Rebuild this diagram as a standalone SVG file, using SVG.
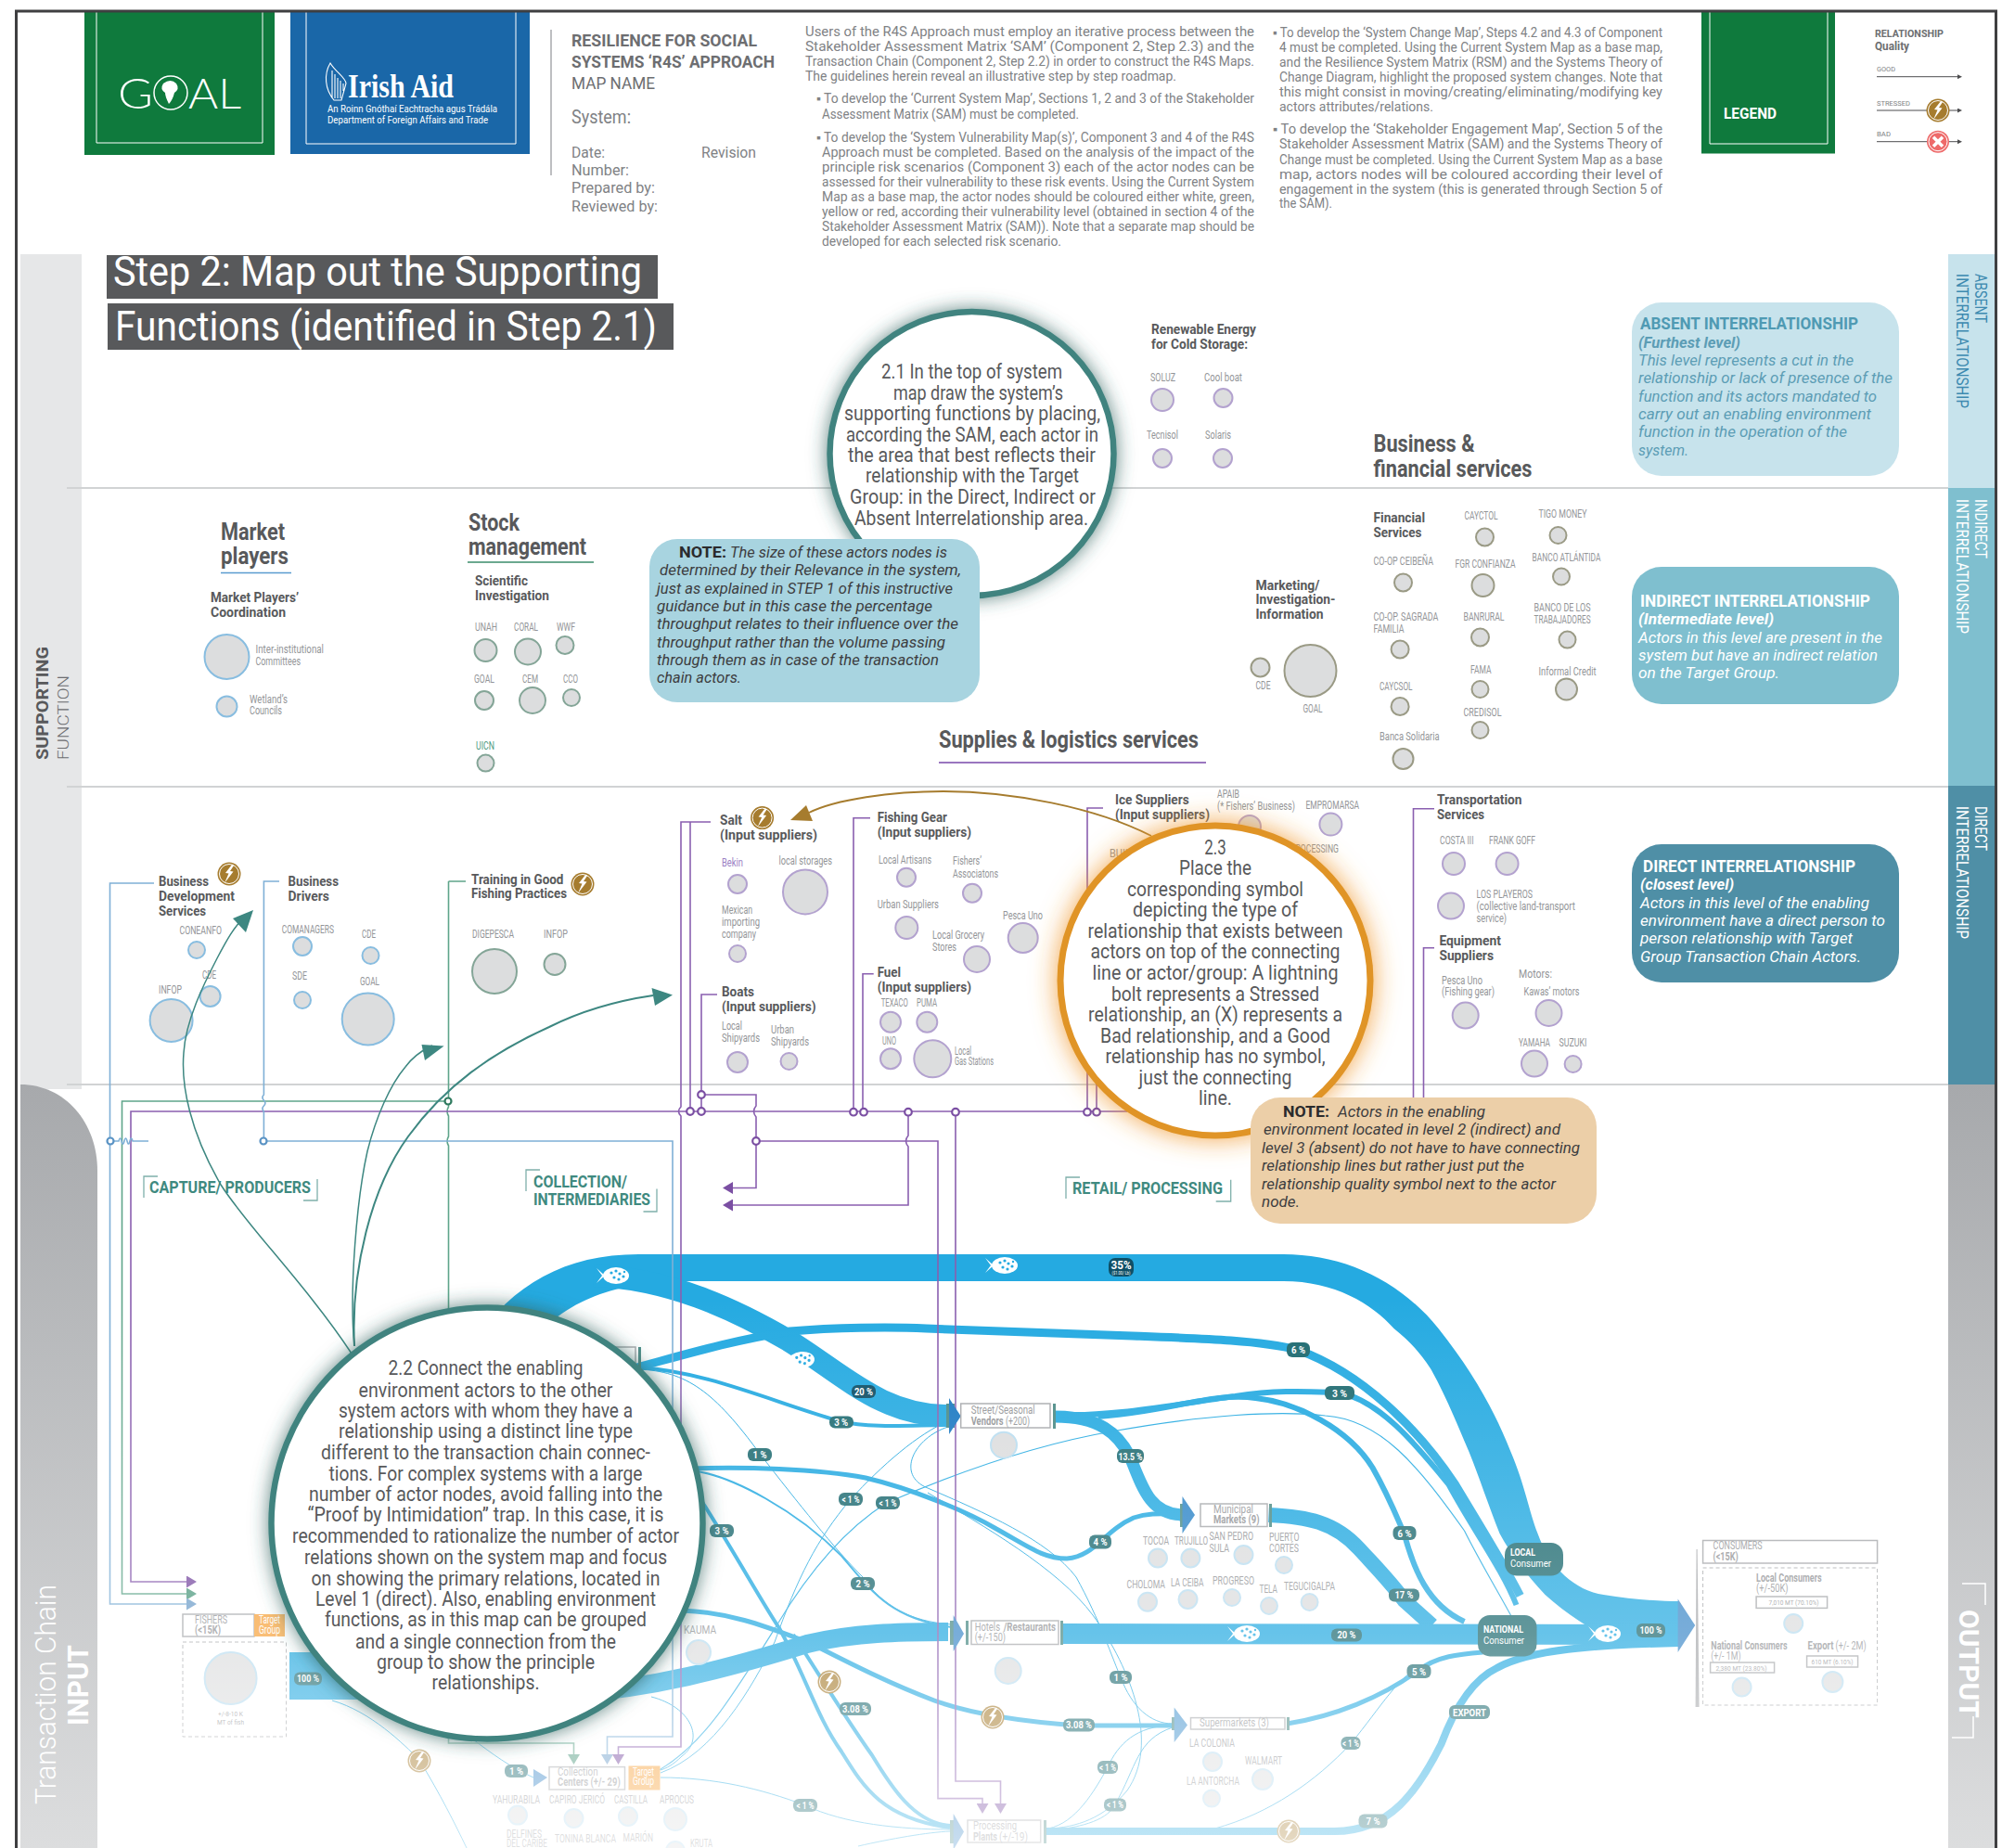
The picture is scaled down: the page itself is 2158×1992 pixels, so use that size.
<svg xmlns="http://www.w3.org/2000/svg" width="2158" height="1992" viewBox="0 0 2158 1992">
<style>
text{font-family:Roboto,"Noto Sans","Liberation Sans",sans-serif;fill:#808285}
.n{font-size:14px}
.l{font-size:12px;fill:#939598}
.h{font-size:15px;font-weight:700;fill:#58595b}
.H{font-size:25px;font-weight:700;fill:#58595b}
.c{font-size:22px;fill:#58595b;text-anchor:middle}
.i{font-size:17px;font-style:italic;fill:#3d3d3f}
.w{fill:#fff}
.b{font-weight:700}
.tl{font-size:18px;font-weight:700;fill:#3f8a80}
.pt{font-size:11px;font-weight:700;fill:#fff;text-anchor:middle}
.s{font-size:8px}
.nd{fill:#dcddde;stroke-width:2}
.cp{stroke:#b3a2cf}.cb{stroke:#88bde0}.cg{stroke:#84a597}.co{stroke:#9a9a85}.cl{stroke:#b9ddf0}
.f{fill:none;stroke:#25aae1}
.rp{fill:none;stroke:#8a5fb0;stroke-width:1.6}
.rb{fill:none;stroke:#7fb0d6;stroke-width:1.6}
.rg{fill:none;stroke:#5fa58a;stroke-width:1.6}
.dot{fill:#fff;stroke-width:2.2}
.bar{fill:#4a8a85}
.box{fill:#fff;stroke:#a7a9ac;stroke-width:1.5}
.dash{fill:none;stroke:#a7a9ac;stroke-width:1;stroke-dasharray:4 3}
.arr{fill:none;stroke:#3d8781}
.brk{fill:none;stroke:#7fb0ab;stroke-width:1.3}
.pill{fill:#1f6b71}
</style>
<defs>
<linearGradient id="gs" x1="0" y1="0" x2="0" y2="1"><stop offset="0" stop-color="#a7a9ac"/><stop offset="1" stop-color="#dcddde"/></linearGradient>
<linearGradient id="fade" gradientUnits="userSpaceOnUse" x1="0" y1="1400" x2="0" y2="1992"><stop offset="0" stop-color="#fff" stop-opacity="0"/><stop offset="0.61" stop-color="#fff" stop-opacity="0.3"/><stop offset="1" stop-color="#fff" stop-opacity="0.72"/></linearGradient>
<filter id="gt" x="-20%" y="-20%" width="140%" height="140%"><feDropShadow dx="0" dy="0" stdDeviation="10" flood-color="#2d5f5c" flood-opacity="0.75"/></filter>
<filter id="go" x="-25%" y="-25%" width="150%" height="150%"><feDropShadow dx="0" dy="0" stdDeviation="14" flood-color="#f0962a" flood-opacity="0.85"/></filter>
<marker id="ap" markerUnits="userSpaceOnUse" markerWidth="11" markerHeight="13" refX="0" refY="6.5" orient="auto"><path d="M0 0L11 6.5L0 13Z" fill="#7b4fa3"/></marker>
<marker id="ab" markerUnits="userSpaceOnUse" markerWidth="11" markerHeight="13" refX="0" refY="6.5" orient="auto"><path d="M0 0L11 6.5L0 13Z" fill="#6f9fca"/></marker>
<marker id="ag" markerUnits="userSpaceOnUse" markerWidth="11" markerHeight="13" refX="0" refY="6.5" orient="auto"><path d="M0 0L11 6.5L0 13Z" fill="#4f9a7f"/></marker>
<marker id="ak" markerUnits="userSpaceOnUse" markerWidth="5" markerHeight="5" refX="0" refY="2.5" orient="auto"><path d="M0 0L5 2.5L0 5Z" fill="#4d4d4f"/></marker>
<g id="bolt"><circle r="12.5" fill="#a67c2e"/><circle r="10.5" fill="none" stroke="#fff" stroke-width="1"/><path d="M3 -10L-4 -1L-0.5 -0.5L-5 10L4.5 -2.5L1 -3L5 -9Z" fill="#fff"/></g>
<g id="fish"><path d="M-21 -8L-12 0L-21 8L-15 0Z" fill="#fff"/><ellipse rx="14" ry="9" fill="#fff"/><circle cx="-5" cy="-3" r="1.6" fill="#25aae1"/><circle cx="0" cy="-5" r="1.6" fill="#25aae1"/><circle cx="4" cy="-2" r="1.6" fill="#25aae1"/><circle cx="-2" cy="2" r="1.6" fill="#25aae1"/><circle cx="3" cy="4" r="1.6" fill="#25aae1"/><circle cx="8" cy="1" r="1.6" fill="#25aae1"/><circle cx="9" cy="-4" r="1.2" fill="#25aae1"/></g>
</defs>
<rect width="2158" height="1992" fill="#fff"/>
<g id="bands">
<rect x="22" y="274" width="66" height="900" fill="#e6e7e8"/>
<path d="M22 1169C70 1169 105 1210 105 1262V1992H22Z" fill="url(#gs)"/>
<rect x="2100" y="274" width="51" height="252" fill="#c7e3ec"/>
<rect x="2100" y="526" width="51" height="321" fill="#7fbfcf"/>
<rect x="2100" y="847" width="51" height="322" fill="#4f8fa6"/>
<rect x="2100" y="1169" width="51" height="823" fill="url(#gs)"/>
<path d="M72 526H2100M72 848H2100M72 1169H2100" stroke="#d1d3d4" stroke-width="2" fill="none"/>
<text transform="translate(52,819) rotate(-90)" font-size="19" class="b" style="fill:#58595b" textLength="122" lengthAdjust="spacingAndGlyphs">SUPPORTING</text>
<text transform="translate(74,819) rotate(-90)" font-size="17" style="fill:#6d6e71;font-weight:300" textLength="91" lengthAdjust="spacingAndGlyphs">FUNCTION</text>
<text transform="translate(60,1945) rotate(-90)" font-size="31" class="w" style="font-weight:300" textLength="237" lengthAdjust="spacingAndGlyphs">Transaction Chain</text>
<text transform="translate(95,1860) rotate(-90)" font-size="32" class="w b" textLength="87" lengthAdjust="spacingAndGlyphs">INPUT</text>
<text transform="translate(2129,295) rotate(90)" font-size="18" style="fill:#3d8ab0" textLength="53" lengthAdjust="spacingAndGlyphs">ABSENT</text>
<text transform="translate(2109,295) rotate(90)" font-size="18" style="fill:#3d8ab0" textLength="145" lengthAdjust="spacingAndGlyphs">INTERRELATIONSHIP</text>
<text transform="translate(2129,538) rotate(90)" font-size="18" class="w" textLength="64" lengthAdjust="spacingAndGlyphs">INDIRECT</text>
<text transform="translate(2109,538) rotate(90)" font-size="18" class="w" textLength="145" lengthAdjust="spacingAndGlyphs">INTERRELATIONSHIP</text>
<text transform="translate(2129,869) rotate(90)" font-size="18" class="w" textLength="48" lengthAdjust="spacingAndGlyphs">DIRECT</text>
<text transform="translate(2109,869) rotate(90)" font-size="18" class="w" textLength="143" lengthAdjust="spacingAndGlyphs">INTERRELATIONSHIP</text>
<text transform="translate(2112,1735) rotate(90)" font-size="30" class="w b" textLength="117" lengthAdjust="spacingAndGlyphs">OUTPUT</text>
<path d="M2115 1707H2140V1730M2104 1873H2127V1850" fill="none" stroke="#fff" stroke-width="1.5"/>
</g>
<g id="header">
<g id="logo-goal"><rect x="91" y="13" width="205" height="154" fill="#0f7a3d"/><path d="M104 13V154H283V13" fill="none" stroke="#fff" stroke-width="1"/>
<text x="127" y="117" font-size="46" class="w" style="font-family:Lato,'Noto Sans',sans-serif;font-weight:300" textLength="38" lengthAdjust="spacingAndGlyphs">G</text>
<circle cx="184" cy="100" r="18" fill="none" stroke="#fff" stroke-width="1.5"/><path d="M176 90q8 -6 14 0q4 6 -2 10q-2 8 -6 12q-4 -8 -4 -12q-6 -4 -2 -10Z" fill="#fff"/>
<text x="203" y="117" font-size="46" class="w" style="font-family:Lato,'Noto Sans',sans-serif;font-weight:300" textLength="57" lengthAdjust="spacingAndGlyphs">AL</text></g>
<g id="logo-irish"><rect x="313" y="13" width="258" height="153" fill="#1a67a8"/><path d="M330 13V155H556V13" fill="none" stroke="#fff" stroke-width="1"/>
<path d="M356 68C362 78 373 84 373 90L368 108H360C350 96 349 80 356 68ZM358 76V106M361 80V106M364 84V106M367 87V106M370 90V98" fill="none" stroke="#fff" stroke-width="1.1"/>
<text x="375" y="105" font-size="36" class="w b" style="font-family:'Liberation Serif',serif" textLength="114" lengthAdjust="spacingAndGlyphs">Irish Aid</text>
<text x="353" y="121" font-size="11" class="w" textLength="183" lengthAdjust="spacingAndGlyphs">An Roinn Gnóthaí Eachtracha agus Trádála</text>
<text x="353" y="133" font-size="11" class="w" textLength="173" lengthAdjust="spacingAndGlyphs">Department of Foreign Affairs and Trade</text></g>
<g id="title-block"><path d="M594 32V189" stroke="#a7a9ac" stroke-width="1.5"/>
<text x="616" y="50" font-size="19" class="b" style="fill:#6d6e71" textLength="200" lengthAdjust="spacingAndGlyphs">RESILIENCE FOR SOCIAL</text>
<text x="616" y="73" font-size="19" class="b" style="fill:#6d6e71" textLength="219" lengthAdjust="spacingAndGlyphs">SYSTEMS ‘R4S’ APPROACH</text>
<text x="616" y="96" font-size="19" style="fill:#6d6e71" textLength="90" lengthAdjust="spacingAndGlyphs">MAP NAME</text>
<text x="616" y="133" font-size="20" textLength="64" lengthAdjust="spacingAndGlyphs">System:</text>
<text x="616" y="170" font-size="17" textLength="36" lengthAdjust="spacingAndGlyphs">Date:</text>
<text x="756" y="170" font-size="17" textLength="59" lengthAdjust="spacingAndGlyphs">Revision</text>
<text x="616" y="189" font-size="17" textLength="62" lengthAdjust="spacingAndGlyphs">Number:</text>
<text x="616" y="208" font-size="17" textLength="90" lengthAdjust="spacingAndGlyphs">Prepared by:</text>
<text x="616" y="228" font-size="17" textLength="93" lengthAdjust="spacingAndGlyphs">Reviewed by:</text></g>
<g id="guidance">
<text x="868" y="39" class="n" textLength="484" lengthAdjust="spacingAndGlyphs">Users of the R4S Approach must employ an iterative process between the</text>
<text x="868" y="55" class="n" textLength="484" lengthAdjust="spacingAndGlyphs">Stakeholder Assessment Matrix ‘SAM’ (Component 2, Step 2.3) and the</text>
<text x="868" y="71" class="n" textLength="484" lengthAdjust="spacingAndGlyphs">Transaction Chain (Component 2, Step 2.2) in order to construct the R4S Maps.</text>
<text x="868" y="87" class="n" textLength="400" lengthAdjust="spacingAndGlyphs">The guidelines herein reveal an illustrative step by step roadmap.</text>
<text x="880" y="111" class="n" textLength="472" lengthAdjust="spacingAndGlyphs">▪ To develop the ‘Current System Map’, Sections 1, 2 and 3 of the Stakeholder</text>
<text x="886" y="127.5" class="n" textLength="277" lengthAdjust="spacingAndGlyphs">Assessment Matrix (SAM) must be completed.</text>
<text x="880" y="152.5" class="n" textLength="472" lengthAdjust="spacingAndGlyphs">▪ To develop the ‘System Vulnerability Map(s)’, Component 3 and 4 of the R4S</text>
<text x="886" y="168.6" class="n" textLength="466" lengthAdjust="spacingAndGlyphs">Approach must be completed. Based on the analysis of the impact of the</text>
<text x="886" y="184.7" class="n" textLength="466" lengthAdjust="spacingAndGlyphs">principle risk scenarios (Component 3) each of the actor nodes can be</text>
<text x="886" y="200.8" class="n" textLength="466" lengthAdjust="spacingAndGlyphs">assessed for their vulnerability to these risk events. Using the Current System</text>
<text x="886" y="216.9" class="n" textLength="466" lengthAdjust="spacingAndGlyphs">Map as a base map, the actor nodes should be coloured either white, green,</text>
<text x="886" y="233" class="n" textLength="466" lengthAdjust="spacingAndGlyphs">yellow or red, according their vulnerability level (obtained in section 4 of the</text>
<text x="886" y="249" class="n" textLength="466" lengthAdjust="spacingAndGlyphs">Stakeholder Assessment Matrix (SAM)). Note that a separate map should be</text>
<text x="886" y="265" class="n" textLength="258" lengthAdjust="spacingAndGlyphs">developed for each selected risk scenario.</text>
<text x="1372" y="39.5" class="n" textLength="420" lengthAdjust="spacingAndGlyphs">▪ To develop the ‘System Change Map’, Steps 4.2 and 4.3 of Component</text>
<text x="1379" y="55.5" class="n" textLength="413" lengthAdjust="spacingAndGlyphs">4 must be completed. Using the Current System Map as a base map,</text>
<text x="1379" y="71.5" class="n" textLength="413" lengthAdjust="spacingAndGlyphs">and the Resilience System Matrix (RSM) and the Systems Theory of</text>
<text x="1379" y="87.5" class="n" textLength="413" lengthAdjust="spacingAndGlyphs">Change Diagram, highlight the proposed system changes. Note that</text>
<text x="1379" y="103.5" class="n" textLength="413" lengthAdjust="spacingAndGlyphs">this might consist in moving/creating/eliminating/modifying key</text>
<text x="1379" y="119.5" class="n" textLength="166" lengthAdjust="spacingAndGlyphs">actors attributes/relations.</text>
<text x="1372" y="144" class="n" textLength="420" lengthAdjust="spacingAndGlyphs">▪ To develop the ‘Stakeholder Engagement Map’, Section 5 of the</text>
<text x="1379" y="160" class="n" textLength="413" lengthAdjust="spacingAndGlyphs">Stakeholder Assessment Matrix (SAM) and the Systems Theory of</text>
<text x="1379" y="177" class="n" textLength="413" lengthAdjust="spacingAndGlyphs">Change must be completed. Using the Current System Map as a base</text>
<text x="1379" y="193" class="n" textLength="413" lengthAdjust="spacingAndGlyphs">map, actors nodes will be coloured according their level of</text>
<text x="1379" y="209" class="n" textLength="413" lengthAdjust="spacingAndGlyphs">engagement in the system (this is generated through Section 5 of</text>
<text x="1379" y="224" class="n" textLength="57" lengthAdjust="spacingAndGlyphs">the SAM).</text>
</g>
<g id="legend"><rect x="1834" y="13" width="144" height="152.5" fill="#0f7a3d"/><path d="M1843 13V155H1970V13" fill="none" stroke="#fff" stroke-width="1"/>
<text x="1858" y="127.5" font-size="17" class="w b" textLength="57" lengthAdjust="spacingAndGlyphs">LEGEND</text>
<text x="2021" y="40" font-size="11" class="b" style="fill:#6d6e71" textLength="74" lengthAdjust="spacingAndGlyphs">RELATIONSHIP</text>
<text x="2021" y="54.3" font-size="12" class="b" style="fill:#6d6e71" textLength="37" lengthAdjust="spacingAndGlyphs">Quality</text>
<text x="2023" y="76.7" font-size="8" textLength="20" lengthAdjust="spacingAndGlyphs">GOOD</text>
<path d="M2023 82.7H2110" stroke="#4d4d4f" stroke-width="1" marker-end="url(#ak)"/>
<text x="2023" y="114" font-size="8" textLength="36" lengthAdjust="spacingAndGlyphs">STRESSED</text>
<path d="M2023 119H2110" stroke="#4d4d4f" stroke-width="1" marker-end="url(#ak)"/><use href="#bolt" transform="translate(2089,119)"/>
<text x="2023" y="146.7" font-size="8" textLength="15" lengthAdjust="spacingAndGlyphs">BAD</text>
<path d="M2023 152.7H2110" stroke="#4d4d4f" stroke-width="1" marker-end="url(#ak)"/>
<circle cx="2089" cy="152.7" r="12" fill="#ee6a6a"/><circle cx="2089" cy="152.7" r="10" fill="none" stroke="#fff"/><path d="M2084 147.7L2094 157.7M2094 147.7L2084 157.7" stroke="#fff" stroke-width="3.5"/></g>
<g id="step-title"><rect x="115" y="275" width="594" height="47" fill="#58595b"/><rect x="116" y="327" width="610" height="50" fill="#58595b"/>
<text x="122" y="308" font-size="44" class="w" textLength="570" lengthAdjust="spacingAndGlyphs">Step 2: Map out the Supporting</text>
<text x="124" y="367" font-size="44" class="w" textLength="584" lengthAdjust="spacingAndGlyphs">Functions (identified in Step 2.1)</text></g>
</g>

<g id="connectors">
<path transform="translate(-1.5 0)" d="M512 1445C555 1385 610 1352 690 1352L1385 1352C1450 1352 1510 1380 1552 1432C1590 1480 1612 1520 1630 1565C1645 1600 1650 1630 1659 1653C1672 1690 1700 1715 1730 1719C1760 1724 1790 1726 1811 1726L1811 1772L1745 1772C1715 1755 1690 1740 1667 1719C1645 1695 1630 1675 1618 1653C1605 1620 1597 1595 1585 1565C1570 1530 1560 1505 1544 1476C1530 1455 1520 1445 1504 1432C1480 1405 1440 1381 1385 1381L733 1381C660 1384 610 1400 560 1460Z" fill="#25aae1"/>
<path class="f" stroke-width="24" d="M640 1375C720 1378 790 1410 850 1445C910 1482 950 1526 1022 1526"/>
<path class="f" stroke-width="4" d="M688 1474C760 1478 830 1510 905 1532C940 1540 985 1536 1022 1536"/>
<path class="f" stroke-width="1" d="M688 1476C740 1478 770 1500 819 1567C860 1620 900 1670 930 1700C950 1730 980 1748 1026 1751"/>
<path class="f" stroke-width="5" d="M745 1583C800 1581 880 1583 933 1593C980 1604 1040 1628 1074 1648C1110 1668 1125 1680 1150 1680C1180 1678 1190 1650 1222 1636C1240 1630 1255 1632 1276 1632"/>
<path class="f" stroke-width="2" d="M745 1585C790 1590 860 1630 907 1677C940 1716 960 1745 1026 1754"/>
<path class="f" stroke-width="1" d="M712 1911C770 1890 810 1820 835 1770C860 1700 880 1660 917 1616C950 1580 990 1545 1022 1532"/>
<path class="f" stroke-width="1" d="M1022 1538C985 1550 965 1590 1000 1604C1060 1630 1130 1660 1160 1700C1185 1745 1200 1790 1208 1808C1220 1840 1240 1858 1264 1858"/>
<path class="f" stroke-width="1" d="M1000 1609C1060 1645 1140 1690 1178 1741C1220 1800 1250 1880 1215 1930C1190 1960 1160 1970 1130 1971"/>
<path class="f" stroke-width="1" d="M1130 1971C1160 1965 1180 1930 1194 1905C1205 1880 1225 1860 1264 1860"/>
<path class="f" stroke-width="1" d="M1130 1973C1170 1970 1195 1960 1202 1945C1225 1905 1225 1875 1264 1862"/>
<path class="f" stroke-width="5" d="M735 1736C790 1738 830 1755 873 1771C920 1795 960 1815 1007 1833C1040 1845 1090 1855 1163 1860L1264 1860"/>
<path class="f" stroke-width="4" d="M755 1616C790 1670 820 1725 840 1755C870 1810 880 1850 907 1888C930 1925 950 1960 1024 1970"/>
<path class="f" stroke-width="4" d="M855 1762C880 1800 910 1850 940 1892C960 1925 985 1965 1024 1968"/>
<path class="f" stroke-width="1" d="M712 1916C770 1916 820 1928 868 1946C910 1966 970 1972 1024 1972"/>
<path class="f" stroke-width="1" d="M702 1829C745 1840 760 1875 735 1893C725 1903 718 1906 712 1908"/>
<path class="f" stroke-width="1" d="M358 1833C400 1845 435 1880 452 1897C475 1935 490 1965 503 1992"/>
<path class="f" stroke-width="1" d="M510 1875C530 1890 550 1905 575 1916"/>
<path class="f" stroke-width="1" d="M925 1990C960 1982 1000 1975 1024 1974"/>
<path class="f" stroke-width="20" d="M620 1825C700 1820 780 1800 870 1772C920 1760 970 1759 1022 1759"/>
<path d="M312 1781L425 1781L425 1832L312 1832Z" fill="#25aae1"/>
<path class="f" stroke-width="13" d="M1137 1527C1185 1527 1205 1545 1218 1570C1232 1605 1240 1632 1275 1633"/>
<g transform="translate(-1.5 0)">
<path class="f" stroke-width="9" d="M688 1474C740 1460 790 1445 853 1435C900 1431 960 1430 1000 1432L1222 1440C1300 1443 1360 1445 1400 1455C1470 1480 1530 1540 1570 1600C1600 1650 1625 1690 1640 1720"/>
<path class="f" stroke-width="1.2" d="M712 1908C760 1880 790 1830 840 1750C870 1700 910 1650 957 1620C1050 1580 1130 1555 1200 1543C1300 1525 1380 1520 1430 1526C1490 1530 1530 1580 1580 1650C1600 1690 1625 1730 1640 1760"/>
<path class="f" stroke-width="6" d="M1137 1524C1190 1530 1290 1510 1333 1505C1380 1498 1410 1500 1445 1501C1490 1510 1530 1560 1563 1600C1590 1650 1620 1690 1636 1730"/>
<path class="f" stroke-width="6" d="M1185 1527C1260 1522 1310 1500 1355 1507C1400 1512 1455 1540 1481 1582C1497 1610 1505 1630 1515 1653C1525 1690 1540 1730 1580 1748"/>
<path class="f" stroke-width="16" d="M1369 1633C1410 1635 1440 1640 1467 1670C1490 1695 1500 1705 1515 1725L1545 1752"/>
<path class="f" stroke-width="22" d="M1147 1761L1811 1762"/>
<path class="f" stroke-width="5" d="M1389 1858C1440 1850 1490 1830 1530 1801C1550 1785 1575 1783 1600 1781"/>
<path class="f" stroke-width="1" d="M1311 1971C1370 1955 1420 1920 1458 1879C1490 1840 1510 1805 1535 1795C1560 1785 1580 1783 1600 1780"/>
<path class="f" stroke-width="8" d="M1128 1974L1440 1974C1500 1974 1530 1930 1555 1880C1570 1840 1590 1810 1615 1798C1650 1778 1720 1773 1811 1771"/>
</g>

<path class="rg" marker-end="url(#ag)" d="M483 1187H131.5V1718H201"/>
<path class="rg" marker-end="url(#ag)" d="M483.5 950H502M483.5 950V1193q-3 5 0 10V1225q-3 5 0 10V1879H618.5V1891"/>
<path class="rp" marker-end="url(#ap)" d="M1215 1198H141V1705H201"/>
<path class="rb" marker-end="url(#ab)" d="M166 952H118.5V1729H201"/>
<path class="rb" d="M119 1230H128q1.5 -6 3 0t3 0t3 0t3 0t3 0H160"/>
<path class="rb" d="M301 950H284.4V1180q-3 3 0 6q3 3 0 6q-3 3 0 6V1230"/>
<path class="rb" marker-end="url(#ab)" d="M284 1230H725V1872H654.5V1891"/>
<path class="rp" marker-end="url(#ap)" d="M766 886H734V1193q-5 5 0 10V1883H666.5V1891"/>
<path class="rp" d="M744 886V1198"/>
<path class="rp" d="M773 1072H756V1198"/>
<path class="rp" d="M756 1180H815V1192q-5 6 0 12V1230"/>
<path class="rp" marker-end="url(#ap)" d="M815 1230H1011V1938.6H1059V1944"/>
<path class="rp" marker-end="url(#ap)" d="M815 1230V1280.5H790"/>
<path class="rp" marker-end="url(#ap)" d="M979 1198V1224q-5 6 0 12V1299H790"/>
<path class="rp" marker-end="url(#ap)" d="M1030 1198V1920H1078.5V1944"/>
<path class="rp" d="M938 881.7H920V1198M941.7 1049.7H930V1198M1189 871H1172V1198M1182 980V1198"/>
<path class="rp" d="M1546 871.7H1523.5V1198M1546 1021.7H1534.5V1198"/>
<circle class="dot" cx="483" cy="1187" r="3.5" stroke="#2f7a5f"/>
<g stroke="#5a93c4"><circle class="dot" cx="119" cy="1230" r="3.5"/><circle class="dot" cx="284" cy="1230" r="3.5"/></g>
<g stroke="#7b4fa3"><circle class="dot" cx="744" cy="1198" r="3.8"/><circle class="dot" cx="756" cy="1198" r="3.8"/><circle class="dot" cx="756" cy="1180" r="3.8"/><circle class="dot" cx="815" cy="1230" r="3.8"/><circle class="dot" cx="920" cy="1198.7" r="3.8"/><circle class="dot" cx="931" cy="1198.7" r="3.8"/><circle class="dot" cx="979" cy="1198.7" r="3.8"/><circle class="dot" cx="1030" cy="1198.7" r="3.8"/><circle class="dot" cx="1172" cy="1198.7" r="3.8"/><circle class="dot" cx="1182" cy="1198.7" r="3.8"/></g>
</g>

<g id="level-names">
<g id="market-players"><text x="238" y="582" class="H" textLength="69" lengthAdjust="spacingAndGlyphs">Market</text><text x="238" y="608" class="H" textLength="73" lengthAdjust="spacingAndGlyphs">players</text><path d="M238 617.5H314" stroke="#5a9bd0" stroke-width="1.5"/></g>
<g id="stock-management"><text x="505" y="571.5" class="H" textLength="55" lengthAdjust="spacingAndGlyphs">Stock</text><text x="505" y="597.5" class="H" textLength="127" lengthAdjust="spacingAndGlyphs">management</text><path d="M504 606H640" stroke="#6ba88f" stroke-width="2"/></g>
<g id="supplies"><text x="1012" y="806" class="H" textLength="280" lengthAdjust="spacingAndGlyphs">Supplies &amp; logistics services</text><path d="M1012 822H1300" stroke="#9a76bf" stroke-width="2"/></g>
<g id="business-financial"><text x="1480.5" y="487" class="H" textLength="109" lengthAdjust="spacingAndGlyphs">Business &amp;</text><text x="1480.5" y="514" class="H" textLength="171" lengthAdjust="spacingAndGlyphs">financial services</text></g>
</g>

<g id="absent-level">
<g id="renewable"><text x="1241" y="360" class="h" textLength="113" lengthAdjust="spacingAndGlyphs">Renewable Energy</text><text x="1241" y="376" class="h" textLength="104" lengthAdjust="spacingAndGlyphs">for Cold Storage:</text></g>
<g id="soluz"><circle class="nd cp" cx="1253" cy="431" r="12"/><text class="l" x="1240" y="411" textLength="27" lengthAdjust="spacingAndGlyphs">SOLUZ</text></g>
<g id="coolboat"><circle class="nd cp" cx="1318.5" cy="429" r="10"/><text class="l" x="1298" y="411" textLength="41" lengthAdjust="spacingAndGlyphs">Cool boat</text></g>
<g id="tecnisol"><circle class="nd cp" cx="1253" cy="494" r="10"/><text class="l" x="1236" y="473" textLength="34" lengthAdjust="spacingAndGlyphs">Tecnisol</text></g>
<g id="solaris"><circle class="nd cp" cx="1318" cy="494" r="10"/><text class="l" x="1299" y="473" textLength="28" lengthAdjust="spacingAndGlyphs">Solaris</text></g>
</g>

<g id="indirect-level">
<g id="mp-coord"><text x="227" y="649" class="h" textLength="95" lengthAdjust="spacingAndGlyphs">Market Players’</text><text x="227" y="665" class="h" textLength="81" lengthAdjust="spacingAndGlyphs">Coordination</text></g>
<g id="interinst"><circle class="nd cb" cx="244.5" cy="708" r="24"/><text class="l" x="275.5" y="704" textLength="73.5" lengthAdjust="spacingAndGlyphs">Inter-institutional</text><text class="l" x="275.5" y="717" textLength="48.5" lengthAdjust="spacingAndGlyphs">Committees</text></g>
<g id="wetland"><circle class="nd cb" cx="244.5" cy="761.5" r="11"/><text class="l" x="269" y="758" textLength="41" lengthAdjust="spacingAndGlyphs">Wetland’s</text><text class="l" x="269" y="770" textLength="35" lengthAdjust="spacingAndGlyphs">Councils</text></g>
<g id="sci"><text x="512" y="631" class="h" textLength="57" lengthAdjust="spacingAndGlyphs">Scientific</text><text x="512" y="647" class="h" textLength="80" lengthAdjust="spacingAndGlyphs">Investigation</text></g>
<g id="unah"><circle class="nd cg" cx="523.5" cy="701" r="12"/><text class="l" x="512" y="680" textLength="24" lengthAdjust="spacingAndGlyphs">UNAH</text></g>
<g id="coral"><circle class="nd cg" cx="569" cy="702.5" r="14"/><text class="l" x="554" y="680" textLength="26" lengthAdjust="spacingAndGlyphs">CORAL</text></g>
<g id="wwf"><circle class="nd cg" cx="609" cy="695.5" r="9.5"/><text class="l" x="600" y="680" textLength="20" lengthAdjust="spacingAndGlyphs">WWF</text></g>
<g id="goal-s"><circle class="nd cg" cx="522" cy="755" r="10"/><text class="l" x="511" y="736" textLength="22" lengthAdjust="spacingAndGlyphs">GOAL</text></g>
<g id="cem"><circle class="nd cg" cx="574" cy="755" r="14"/><text class="l" x="563" y="736" textLength="17" lengthAdjust="spacingAndGlyphs">CEM</text></g>
<g id="cco"><circle class="nd cg" cx="616" cy="752" r="9"/><text class="l" x="607" y="736" textLength="16" lengthAdjust="spacingAndGlyphs">CCO</text></g>
<g id="uicn"><circle class="nd cg" cx="523.5" cy="822.6" r="9"/><text class="l" x="513" y="808" textLength="20" lengthAdjust="spacingAndGlyphs" style="fill:#4f9a82">UICN</text></g>
<g transform="translate(-1.5 0)">
<g id="marketing"><text x="1355" y="636" class="h" textLength="69" lengthAdjust="spacingAndGlyphs">Marketing/</text><text x="1355" y="651" class="h" textLength="86" lengthAdjust="spacingAndGlyphs">Investigation-</text><text x="1355" y="667" class="h" textLength="73" lengthAdjust="spacingAndGlyphs">Information</text></g>
<g id="cde-m"><circle class="nd co" cx="1360" cy="719.5" r="10"/><text class="l" x="1355" y="743" textLength="16" lengthAdjust="spacingAndGlyphs">CDE</text></g>
<g id="goal-m"><circle class="nd co" cx="1414" cy="723" r="28"/><text class="l" x="1406" y="767.6" textLength="21" lengthAdjust="spacingAndGlyphs">GOAL</text></g>
<g id="fin"><text x="1482" y="563" class="h" textLength="55.5" lengthAdjust="spacingAndGlyphs">Financial</text><text x="1482" y="579" class="h" textLength="52" lengthAdjust="spacingAndGlyphs">Services</text></g>
<g id="cayctol"><circle class="nd co" cx="1602" cy="579" r="9.5"/><text class="l" x="1580" y="560" textLength="36" lengthAdjust="spacingAndGlyphs">CAYCTOL</text></g>
<g id="tigo"><circle class="nd co" cx="1681" cy="577" r="9"/><text class="l" x="1660" y="558" textLength="52" lengthAdjust="spacingAndGlyphs">TIGO MONEY</text></g>
<g id="ceibena"><circle class="nd co" cx="1514" cy="628" r="9.5"/><text class="l" x="1482" y="608.5" textLength="64.5" lengthAdjust="spacingAndGlyphs">CO-OP CEIBEÑA</text></g>
<g id="fgr"><circle class="nd co" cx="1600" cy="631" r="12"/><text class="l" x="1570" y="611.5" textLength="65" lengthAdjust="spacingAndGlyphs">FGR CONFIANZA</text></g>
<g id="atlantida"><circle class="nd co" cx="1684.5" cy="621.5" r="9"/><text class="l" x="1653" y="605" textLength="74" lengthAdjust="spacingAndGlyphs">BANCO ATLÁNTIDA</text></g>
<g id="sagrada"><circle class="nd co" cx="1510.6" cy="700" r="9.5"/><text class="l" x="1482" y="669" textLength="70" lengthAdjust="spacingAndGlyphs">CO-OP. SAGRADA</text><text class="l" x="1482" y="682" textLength="33" lengthAdjust="spacingAndGlyphs">FAMILIA</text></g>
<g id="banrural"><circle class="nd co" cx="1597" cy="687" r="9.5"/><text class="l" x="1579" y="669" textLength="44" lengthAdjust="spacingAndGlyphs">BANRURAL</text></g>
<g id="trabaj"><circle class="nd co" cx="1691" cy="689.6" r="9"/><text class="l" x="1655" y="659" textLength="61" lengthAdjust="spacingAndGlyphs">BANCO DE LOS</text><text class="l" x="1655" y="672" textLength="61" lengthAdjust="spacingAndGlyphs">TRABAJADORES</text></g>
<g id="caycsol"><circle class="nd co" cx="1510.6" cy="761.5" r="9.5"/><text class="l" x="1488.5" y="744" textLength="35.5" lengthAdjust="spacingAndGlyphs">CAYCSOL</text></g>
<g id="fama"><circle class="nd co" cx="1597" cy="743" r="9"/><text class="l" x="1586.5" y="726" textLength="22.5" lengthAdjust="spacingAndGlyphs">FAMA</text></g>
<g id="informal"><circle class="nd co" cx="1690" cy="743" r="11.5"/><text class="l" x="1660" y="728" textLength="62" lengthAdjust="spacingAndGlyphs">Informal Credit</text></g>
<g id="credisol"><circle class="nd co" cx="1597" cy="787" r="9"/><text class="l" x="1579" y="771.5" textLength="41" lengthAdjust="spacingAndGlyphs">CREDISOL</text></g>
<g id="banca"><circle class="nd co" cx="1514" cy="818" r="11"/><text class="l" x="1488.5" y="797.5" textLength="64.5" lengthAdjust="spacingAndGlyphs">Banca Solidaria</text></g>
</g>
</g>

<g id="direct-level">
<g id="bds"><text x="171" y="954.5" class="h" textLength="54" lengthAdjust="spacingAndGlyphs">Business</text><text x="171" y="970.5" class="h" textLength="82" lengthAdjust="spacingAndGlyphs">Development</text><text x="171" y="986.5" class="h" textLength="51" lengthAdjust="spacingAndGlyphs">Services</text><use href="#bolt" transform="translate(247,942)"/></g>
<g id="coneanfo"><circle class="nd cb" cx="212" cy="1024" r="9"/><text class="l" x="193.5" y="1007" textLength="45.5" lengthAdjust="spacingAndGlyphs">CONEANFO</text></g>
<g id="cde-b"><circle class="nd cb" cx="226.6" cy="1074" r="11"/><text class="l" x="218" y="1055" textLength="15" lengthAdjust="spacingAndGlyphs">CDE</text></g>
<g id="infop-b"><circle class="nd cb" cx="184.6" cy="1100" r="23"/><text class="l" x="171" y="1071" textLength="25" lengthAdjust="spacingAndGlyphs">INFOP</text></g>
<g id="drivers"><text x="310.6" y="954.5" class="h" textLength="54.4" lengthAdjust="spacingAndGlyphs">Business</text><text x="310.6" y="970.5" class="h" textLength="44.4" lengthAdjust="spacingAndGlyphs">Drivers</text></g>
<g id="comanagers"><circle class="nd cb" cx="326" cy="1020" r="10"/><text class="l" x="303.7" y="1005.6" textLength="56.3" lengthAdjust="spacingAndGlyphs">COMANAGERS</text></g>
<g id="cde-d"><circle class="nd cb" cx="399.5" cy="1030" r="9"/><text class="l" x="390" y="1011" textLength="15" lengthAdjust="spacingAndGlyphs">CDE</text></g>
<g id="sde"><circle class="nd cb" cx="326" cy="1078" r="9"/><text class="l" x="315" y="1056" textLength="16" lengthAdjust="spacingAndGlyphs">SDE</text></g>
<g id="goal-d"><circle class="nd cb" cx="396.7" cy="1098.4" r="28"/><text class="l" x="388" y="1061.6" textLength="21" lengthAdjust="spacingAndGlyphs">GOAL</text></g>
<g id="training"><text x="508" y="952.7" class="h" textLength="99.4" lengthAdjust="spacingAndGlyphs">Training in Good</text><text x="508" y="968" class="h" textLength="103" lengthAdjust="spacingAndGlyphs">Fishing Practices</text><use href="#bolt" transform="translate(628,953)"/></g>
<g id="digepesca"><circle class="nd cg" cx="533" cy="1047" r="24"/><text class="l" x="509" y="1011" textLength="45" lengthAdjust="spacingAndGlyphs">DIGEPESCA</text></g>
<g id="infop-t"><circle class="nd cg" cx="598" cy="1039.5" r="11.5"/><text class="l" x="586" y="1011" textLength="26" lengthAdjust="spacingAndGlyphs">INFOP</text></g>
<g id="salt"><text x="776" y="888.5" class="h" textLength="24" lengthAdjust="spacingAndGlyphs">Salt</text><text x="776" y="904.6" class="h" textLength="105" lengthAdjust="spacingAndGlyphs">(Input  suppliers)</text><use href="#bolt" transform="translate(821.6,881.6)"/></g>
<g id="bekin"><circle class="nd cp" cx="795" cy="953" r="10"/><text class="l" x="778" y="933.6" textLength="23" lengthAdjust="spacingAndGlyphs" style="fill:#9b7fc4">Bekin</text></g>
<g id="storages"><circle class="nd cp" cx="868" cy="961.4" r="24"/><text class="l" x="839.5" y="931.5" textLength="57.5" lengthAdjust="spacingAndGlyphs">local storages</text></g>
<g id="mexican"><circle class="nd cp" cx="795" cy="1028" r="9"/><text class="l" x="778" y="985" textLength="33" lengthAdjust="spacingAndGlyphs">Mexican</text><text class="l" x="778" y="998" textLength="41" lengthAdjust="spacingAndGlyphs">importing</text><text class="l" x="778" y="1011" textLength="37" lengthAdjust="spacingAndGlyphs">company</text></g>
<g id="boats"><text x="778" y="1073.7" class="h" textLength="35" lengthAdjust="spacingAndGlyphs">Boats</text><text x="778" y="1090" class="h" textLength="101.5" lengthAdjust="spacingAndGlyphs">(Input suppliers)</text></g>
<g id="local-ship"><circle class="nd cp" cx="795" cy="1145" r="11"/><text class="l" x="778" y="1110" textLength="22" lengthAdjust="spacingAndGlyphs">Local</text><text class="l" x="778" y="1123" textLength="41" lengthAdjust="spacingAndGlyphs">Shipyards</text></g>
<g id="urban-ship"><circle class="nd cp" cx="850.5" cy="1144" r="9"/><text class="l" x="831" y="1113.6" textLength="25" lengthAdjust="spacingAndGlyphs">Urban</text><text class="l" x="831" y="1126.6" textLength="41" lengthAdjust="spacingAndGlyphs">Shipyards</text></g>
<g id="gear"><text x="945.7" y="885.7" class="h" textLength="75.3" lengthAdjust="spacingAndGlyphs">Fishing Gear</text><text x="945.7" y="901.7" class="h" textLength="101.3" lengthAdjust="spacingAndGlyphs">(Input suppliers)</text></g>
<g id="artisans"><circle class="nd cp" cx="977" cy="945.7" r="10"/><text class="l" x="947" y="930.7" textLength="57" lengthAdjust="spacingAndGlyphs">Local Artisans</text></g>
<g id="fishers-assoc"><circle class="nd cp" cx="1048" cy="962.7" r="10"/><text class="l" x="1027" y="932" textLength="31" lengthAdjust="spacingAndGlyphs">Fishers’</text><text class="l" x="1027" y="945.7" textLength="49" lengthAdjust="spacingAndGlyphs">Associatons</text></g>
<g id="urban-sup"><circle class="nd cp" cx="977.3" cy="1000" r="12"/><text class="l" x="945.7" y="979" textLength="66.3" lengthAdjust="spacingAndGlyphs">Urban Suppliers</text></g>
<g id="grocery"><circle class="nd cp" cx="1053" cy="1034" r="14"/><text class="l" x="1005" y="1011.7" textLength="56" lengthAdjust="spacingAndGlyphs">Local Grocery</text><text class="l" x="1005" y="1024.7" textLength="26" lengthAdjust="spacingAndGlyphs">Stores</text></g>
<g id="pesca"><circle class="nd cp" cx="1102.7" cy="1011" r="16"/><text class="l" x="1081" y="990.7" textLength="43" lengthAdjust="spacingAndGlyphs">Pesca Uno</text></g>
<g id="fuel"><text x="945.7" y="1052.7" class="h" textLength="25.3" lengthAdjust="spacingAndGlyphs">Fuel</text><text x="945.7" y="1069" class="h" textLength="101.3" lengthAdjust="spacingAndGlyphs">(Input suppliers)</text></g>
<g id="texaco"><circle class="nd cp" cx="960" cy="1101.7" r="11"/><text class="l" x="949.7" y="1085" textLength="29" lengthAdjust="spacingAndGlyphs">TEXACO</text></g>
<g id="puma"><circle class="nd cp" cx="999.3" cy="1101.7" r="11"/><text class="l" x="988" y="1085" textLength="22" lengthAdjust="spacingAndGlyphs">PUMA</text></g>
<g id="uno"><circle class="nd cp" cx="960" cy="1141.3" r="11"/><text class="l" x="951" y="1125.7" textLength="15" lengthAdjust="spacingAndGlyphs">UNO</text></g>
<g id="gas"><circle class="nd cp" cx="1005.3" cy="1141.3" r="20"/><text class="l" x="1029" y="1136.7" textLength="18" lengthAdjust="spacingAndGlyphs">Local</text><text class="l" x="1029" y="1147.7" textLength="42" lengthAdjust="spacingAndGlyphs">Gas Stations</text></g>
<g id="ice"><text x="1202" y="866.7" class="h" textLength="79.7" lengthAdjust="spacingAndGlyphs">Ice Suppliers</text><text x="1202" y="882.7" class="h" textLength="102" lengthAdjust="spacingAndGlyphs">(Input suppliers)</text></g>
<g transform="translate(-1 0)">
<g id="apaib"><circle class="nd cp" cx="1348" cy="891" r="12"/><text class="l" x="1313" y="860" textLength="24" lengthAdjust="spacingAndGlyphs">APAIB</text><text class="l" x="1313" y="873.4" textLength="84" lengthAdjust="spacingAndGlyphs">(* Fishers’ Business)</text></g>
<g id="empromarsa"><circle class="nd cp" cx="1435.4" cy="888.6" r="12"/><text class="l" x="1408.5" y="871.7" textLength="57.5" lengthAdjust="spacingAndGlyphs">EMPROMARSA</text></g>
<text class="l" x="1197" y="924" textLength="30" lengthAdjust="spacingAndGlyphs">BUILD</text>
<text class="l" x="1392" y="919" textLength="52" lengthAdjust="spacingAndGlyphs">PROCESSING</text>
</g>
<g transform="translate(-2 0)">
<g id="transport"><text x="1551" y="867" class="h" textLength="91.5" lengthAdjust="spacingAndGlyphs">Transportation</text><text x="1551" y="883" class="h" textLength="51" lengthAdjust="spacingAndGlyphs">Services</text></g>
<g id="costa"><circle class="nd cp" cx="1569" cy="931" r="12"/><text class="l" x="1554" y="910" textLength="36.5" lengthAdjust="spacingAndGlyphs">COSTA III</text></g>
<g id="frank"><circle class="nd cp" cx="1626.6" cy="931" r="12"/><text class="l" x="1607" y="910" textLength="50" lengthAdjust="spacingAndGlyphs">FRANK GOFF</text></g>
<g id="playeros"><circle class="nd cp" cx="1566" cy="976.6" r="14"/><text class="l" x="1593.5" y="968" textLength="60.5" lengthAdjust="spacingAndGlyphs">LOS PLAYEROS</text><text class="l" x="1593.5" y="981" textLength="106.5" lengthAdjust="spacingAndGlyphs">(collective land-transport</text><text class="l" x="1593.5" y="994" textLength="32.5" lengthAdjust="spacingAndGlyphs">service)</text></g>
<g id="equipment"><text x="1553.4" y="1018.7" class="h" textLength="66.6" lengthAdjust="spacingAndGlyphs">Equipment</text><text x="1553.4" y="1034.7" class="h" textLength="58.6" lengthAdjust="spacingAndGlyphs">Suppliers</text></g>
<g id="pesca-gear"><circle class="nd cp" cx="1581.7" cy="1094.6" r="14"/><text class="l" x="1556" y="1061" textLength="44" lengthAdjust="spacingAndGlyphs">Pesca Uno</text><text class="l" x="1556" y="1073" textLength="57" lengthAdjust="spacingAndGlyphs">(Fishing gear)</text></g>
<text class="l" x="1639" y="1054" textLength="36" lengthAdjust="spacingAndGlyphs">Motors:</text>
<g id="kawas"><circle class="nd cp" cx="1671.5" cy="1092" r="14"/><text class="l" x="1644.5" y="1073" textLength="60" lengthAdjust="spacingAndGlyphs">Kawas’ motors</text></g>
<g id="yamaha"><circle class="nd cp" cx="1656" cy="1146.6" r="14"/><text class="l" x="1639" y="1128" textLength="34" lengthAdjust="spacingAndGlyphs">YAMAHA</text></g>
<g id="suzuki"><circle class="nd cp" cx="1697.6" cy="1147" r="9"/><text class="l" x="1682.5" y="1128" textLength="30" lengthAdjust="spacingAndGlyphs">SUZUKI</text></g>
</g>
</g>

<g id="chain-titles">
<text x="161" y="1286" class="tl" textLength="174" lengthAdjust="spacingAndGlyphs">CAPTURE/ PRODUCERS</text>
<path class="brk" d="M170 1268H155V1291M342 1271V1294H327"/>
<text x="575" y="1280" class="tl" textLength="101" lengthAdjust="spacingAndGlyphs">COLLECTION/</text><text x="575" y="1299" class="tl" textLength="126" lengthAdjust="spacingAndGlyphs">INTERMEDIARIES</text>
<path class="brk" d="M582 1261H567V1284M708 1281.6V1306H693.5"/>
<text x="1156" y="1287" class="tl" textLength="162" lengthAdjust="spacingAndGlyphs">RETAIL/ PROCESSING</text>
<path class="brk" d="M1164 1269H1149V1292M1326.7 1271.7V1295H1310.7"/>
</g>

<g id="chain-nodes">
<g id="fishers"><rect class="box" x="197" y="1740" width="77" height="24"/><text class="l" x="210" y="1750" textLength="35" lengthAdjust="spacingAndGlyphs">FISHERS</text><text class="l b" x="210" y="1760.6" textLength="28" lengthAdjust="spacingAndGlyphs">(&lt;15K)</text>
<rect x="274" y="1740" width="33" height="24" fill="#f7a23b"/><text class="l" style="fill:#fff" x="279" y="1750" textLength="23" lengthAdjust="spacingAndGlyphs">Target</text><text class="l" style="fill:#fff" x="279" y="1760.6" textLength="23" lengthAdjust="spacingAndGlyphs">Group</text>
<rect class="dash" x="197" y="1770" width="111.5" height="102"/><circle class="nd cl" cx="248.6" cy="1809" r="28"/>
<text class="s" style="fill:#939598" x="235" y="1850" textLength="27" lengthAdjust="spacingAndGlyphs">+/-8-10 K</text><text class="s" style="fill:#939598" x="234" y="1859" textLength="29" lengthAdjust="spacingAndGlyphs">MT of fish</text></g>
<g id="collection"><rect class="box" x="620" y="1452" width="65" height="24"/><rect class="bar" x="688" y="1452" width="3" height="24"/></g>
<g id="collection-centers"><path d="M575 1907L590 1916L575 1926Z" fill="#3f8ac9"/><rect class="box" x="592" y="1904.6" width="81.5" height="24.4"/><text class="l" x="601" y="1913.7" textLength="43.6" lengthAdjust="spacingAndGlyphs">Collection</text><text class="l b" x="601" y="1925" textLength="67.7" lengthAdjust="spacingAndGlyphs">Centers (+/- 29)</text>
<rect x="678" y="1904" width="33" height="25" fill="#f7a23b" stroke="#f7a23b"/><text class="l" style="fill:#fff" x="682" y="1914" textLength="23" lengthAdjust="spacingAndGlyphs">Target</text><text class="l" style="fill:#fff" x="682" y="1924.4" textLength="23" lengthAdjust="spacingAndGlyphs">Group</text></g>
<g id="yahurabila"><circle class="nd cl" cx="558" cy="1956.6" r="10"/><text class="l" x="531" y="1944" textLength="51" lengthAdjust="spacingAndGlyphs">YAHURABILA</text></g>
<g id="capiro"><circle class="nd cl" cx="618.5" cy="1960" r="10"/><text class="l" x="592" y="1944" textLength="60" lengthAdjust="spacingAndGlyphs">CAPIRO JERICÓ</text></g>
<g id="castilla"><circle class="nd cl" cx="677" cy="1958" r="10"/><text class="l" x="662" y="1944" textLength="36" lengthAdjust="spacingAndGlyphs">CASTILLA</text></g>
<g id="aprocus"><circle class="nd cl" cx="728" cy="1961" r="12"/><text class="l" x="711" y="1944" textLength="37" lengthAdjust="spacingAndGlyphs">APROCUS</text></g>
<text class="l" x="546" y="1981" textLength="38" lengthAdjust="spacingAndGlyphs">DELFINES</text><text class="l" x="546" y="1991" textLength="44" lengthAdjust="spacingAndGlyphs">DEL CARIBE</text>
<text class="l" x="598" y="1986" textLength="66" lengthAdjust="spacingAndGlyphs">TONINA BLANCA</text><text class="l" x="671.5" y="1985" textLength="32.5" lengthAdjust="spacingAndGlyphs">MARIÓN</text>
<g id="kruta"><circle class="nd cl" cx="728" cy="1995" r="10"/><text class="l" x="744" y="1991" textLength="24" lengthAdjust="spacingAndGlyphs">KRUTA</text></g>
<g id="kauma"><circle class="nd cl" cx="753" cy="1781" r="13"/><text class="l" x="737" y="1761" textLength="35" lengthAdjust="spacingAndGlyphs">KAUMA</text></g>
<g id="street"><rect class="bar" x="1020" y="1513" width="9" height="26"/><path d="M1023 1507L1035.7 1526.5L1023 1546Z" fill="#1a78c2"/><rect class="box" x="1035.7" y="1513" width="96.3" height="26"/><rect class="bar" x="1135" y="1513" width="3" height="27"/><text class="l" x="1046.7" y="1524" textLength="69" lengthAdjust="spacingAndGlyphs">Street/Seasonal</text><text class="l b" x="1046.7" y="1536" textLength="35" lengthAdjust="spacingAndGlyphs">Vendors</text><text class="l" x="1084" y="1536" textLength="26" lengthAdjust="spacingAndGlyphs">(+200)</text><circle class="nd cl" cx="1082" cy="1557.7" r="14"/></g>
<g id="hotels"><rect class="bar" x="1024" y="1747" width="4" height="26"/><path d="M1027.7 1741L1039 1761L1027.7 1780Z" fill="#3f8ac9"/><rect class="bar" x="1041" y="1747" width="3" height="26"/><rect class="box" x="1047" y="1747" width="94" height="25.5"/><rect class="bar" x="1143" y="1747" width="3" height="26"/><text class="l" x="1050.7" y="1758" textLength="27.3" lengthAdjust="spacingAndGlyphs">Hotels</text><text class="l b" x="1081.7" y="1758" textLength="56.3" lengthAdjust="spacingAndGlyphs">/Restaurants</text><text class="l" x="1050.7" y="1769" textLength="33.3" lengthAdjust="spacingAndGlyphs">(+/-150)</text><circle class="nd cl" cx="1086.7" cy="1801" r="14"/></g>
<g transform="translate(-1 0)">
<g id="municipal"><rect class="bar" x="1273" y="1621" width="4" height="25"/><path d="M1275.5 1613L1289 1633L1275.5 1653Z" fill="#2f86c8"/><rect class="box" x="1295" y="1621" width="72" height="24.5"/><rect class="bar" x="1369" y="1621" width="3" height="25"/><text class="l" x="1309" y="1631" textLength="43" lengthAdjust="spacingAndGlyphs">Municipal</text><text class="l b" x="1309" y="1642" textLength="49.5" lengthAdjust="spacingAndGlyphs">Markets (9)</text></g>
<g id="tocoa"><circle class="nd cl" cx="1249" cy="1679.5" r="10"/><text class="l" x="1233" y="1665" textLength="28" lengthAdjust="spacingAndGlyphs">TOCOA</text></g>
<g id="trujillo"><circle class="nd cl" cx="1284.4" cy="1679.5" r="10"/><text class="l" x="1267" y="1665" textLength="36" lengthAdjust="spacingAndGlyphs">TRUJILLO</text></g>
<g id="sanpedro"><circle class="nd cl" cx="1341.5" cy="1676" r="10"/><text class="l" x="1304.4" y="1660" textLength="47.6" lengthAdjust="spacingAndGlyphs">SAN PEDRO</text><text class="l" x="1304.4" y="1673" textLength="21.6" lengthAdjust="spacingAndGlyphs">SULA</text></g>
<g id="cortes"><circle class="nd cl" cx="1385" cy="1687" r="9"/><text class="l" x="1369" y="1660.5" textLength="32.5" lengthAdjust="spacingAndGlyphs">PUERTO</text><text class="l" x="1369" y="1673" textLength="32" lengthAdjust="spacingAndGlyphs">CORTÉS</text></g>
<g id="choloma"><circle class="nd cl" cx="1238" cy="1726.7" r="10"/><text class="l" x="1215.5" y="1712" textLength="41.5" lengthAdjust="spacingAndGlyphs">CHOLOMA</text></g>
<g id="ceiba"><circle class="nd cl" cx="1281.5" cy="1724" r="10"/><text class="l" x="1263" y="1710" textLength="35.5" lengthAdjust="spacingAndGlyphs">LA CEIBA</text></g>
<g id="progreso"><circle class="nd cl" cx="1329" cy="1722" r="9"/><text class="l" x="1308" y="1708" textLength="45" lengthAdjust="spacingAndGlyphs">PROGRESO</text></g>
<g id="tela"><circle class="nd cl" cx="1369" cy="1731" r="9"/><text class="l" x="1358.5" y="1717" textLength="19.5" lengthAdjust="spacingAndGlyphs">TELA</text></g>
<g id="tegus"><circle class="nd cl" cx="1412.6" cy="1727" r="9"/><text class="l" x="1385" y="1713.5" textLength="55" lengthAdjust="spacingAndGlyphs">TEGUCIGALPA</text></g>
<g id="super"><rect class="bar" x="1264" y="1851" width="3" height="14"/><path d="M1266.7 1840.6L1281 1859.6L1266.7 1878Z" fill="#4a97d0"/><rect class="box" x="1284.5" y="1851.6" width="101.5" height="12.4"/><rect class="bar" x="1388" y="1851" width="3" height="14"/><text class="l" x="1294" y="1861" textLength="75" lengthAdjust="spacingAndGlyphs">Supermarkets (3)</text></g>
<g id="colonia"><circle class="nd cl" cx="1308" cy="1899" r="10"/><text class="l" x="1283" y="1883" textLength="49" lengthAdjust="spacingAndGlyphs">LA COLONIA</text></g>
<g id="walmart"><circle class="nd cl" cx="1362" cy="1918" r="11"/><text class="l" x="1343" y="1902.4" textLength="40" lengthAdjust="spacingAndGlyphs">WALMART</text></g>
<g id="antorcha"><circle class="nd cl" cx="1307" cy="1938.6" r="9"/><text class="l" x="1280" y="1924.4" textLength="57" lengthAdjust="spacingAndGlyphs">LA ANTORCHA</text></g>
</g>
<g id="processing"><rect class="bar" x="1024" y="1962" width="4" height="25"/><path d="M1027.7 1955L1039 1974.5L1027.7 1994Z" fill="#3f8ac9"/><rect class="box" x="1043" y="1962" width="78.7" height="24"/><rect class="bar" x="1125" y="1962" width="3" height="25"/><text class="l" x="1049" y="1972" textLength="47" lengthAdjust="spacingAndGlyphs">Processing</text><text class="l b" x="1049" y="1983.5" textLength="26" lengthAdjust="spacingAndGlyphs">Plants</text><text class="l" x="1077" y="1983.5" textLength="31" lengthAdjust="spacingAndGlyphs">(+/-19)</text></g>
<g id="consumers" transform="translate(-2.4 0)"><path d="M1811 1723.6L1829.6 1752L1811 1781Z" fill="#3f8ac9"/><path d="M1832 1670L1834 1840L1830 1840L1831 1670Z" fill="#a7a9ac"/>
<rect class="box" x="1838" y="1660.5" width="188" height="24.5"/><text class="l" x="1849" y="1670" textLength="53" lengthAdjust="spacingAndGlyphs">CONSUMERS</text><text class="l b" x="1849" y="1682" textLength="27" lengthAdjust="spacingAndGlyphs">(&lt;15K)</text>
<rect class="dash" x="1838" y="1690" width="188" height="148"/>
<text class="l b" x="1895.5" y="1704.7" textLength="70.5" lengthAdjust="spacingAndGlyphs">Local Consumers</text><text class="l" x="1895.5" y="1715.7" textLength="34.5" lengthAdjust="spacingAndGlyphs">(+/-50K)</text><rect class="box" x="1895.5" y="1721" width="76.5" height="12.4"/><text class="s" style="fill:#939598" x="1909" y="1729.5" textLength="54" lengthAdjust="spacingAndGlyphs">7,010 MT (70.10%)</text><circle class="nd cl" cx="1935.6" cy="1750" r="10"/>
<text class="l b" x="1846.7" y="1777.5" textLength="82.3" lengthAdjust="spacingAndGlyphs">National Consumers</text><text class="l" x="1846.7" y="1788.5" textLength="32.3" lengthAdjust="spacingAndGlyphs">(+/- 1M)</text><rect class="box" x="1846" y="1792" width="69" height="11"/><text class="s" style="fill:#939598" x="1852" y="1800.5" textLength="55" lengthAdjust="spacingAndGlyphs">2,380 MT (23.80%)</text><circle class="nd cl" cx="1880" cy="1818.5" r="10"/>
<text class="l b" x="1951" y="1777.5" textLength="28" lengthAdjust="spacingAndGlyphs">Export</text><text class="l" x="1981" y="1777.5" textLength="33" lengthAdjust="spacingAndGlyphs">(+/- 2M)</text><rect class="box" x="1950" y="1785" width="55" height="12"/><text class="s" style="fill:#939598" x="1955" y="1794" textLength="45" lengthAdjust="spacingAndGlyphs">610 MT (6.10%)</text><circle class="nd cl" cx="1977.8" cy="1813" r="11"/></g>
</g>

<g id="flow-marks">
<use href="#fish" transform="translate(664,1375)"/><use href="#fish" transform="translate(1083,1364)"/><use href="#fish" transform="translate(864,1466) rotate(-5)"/><use href="#fish" transform="translate(1344,1761)"/><use href="#fish" transform="translate(1733,1761)"/>
<use href="#bolt" transform="translate(894,1813)"/><use href="#bolt" transform="translate(1070,1851)"/><use href="#bolt" transform="translate(452,1898)"/><use href="#bolt" transform="translate(1389,1974)"/>
<g id="p35"><rect x="1195" y="1356" width="27" height="20" rx="7" fill="#0f4f66"/><text class="pt" x="1208.5" y="1368" style="font-size:12px" textLength="22" lengthAdjust="spacingAndGlyphs">35%</text><text class="pt" x="1208.5" y="1374" style="font-size:5px;font-weight:400" textLength="20" lengthAdjust="spacingAndGlyphs">($1.00/ Lb)</text></g>
<g id="p-list">
<rect x="918" y="1493" width="26" height="14" rx="6" fill="#0f4f66"/><text class="pt" x="931" y="1504" textLength="20" lengthAdjust="spacingAndGlyphs">20 %</text>
<rect class="pill" x="1387" y="1447" width="25" height="16" rx="6"/><text class="pt" x="1399.5" y="1459" textLength="15" lengthAdjust="spacingAndGlyphs">6 %</text>
<rect class="pill" x="1428" y="1494" width="32" height="15" rx="6"/><text class="pt" x="1444" y="1505.5" textLength="16" lengthAdjust="spacingAndGlyphs">3 %</text>
<rect class="pill" x="894" y="1526.5" width="26" height="13" rx="6"/><text class="pt" x="906.7" y="1537" textLength="15" lengthAdjust="spacingAndGlyphs">3 %</text>
<rect class="pill" x="1204" y="1562" width="29" height="15" rx="6"/><text class="pt" x="1218.5" y="1573.5" textLength="26" lengthAdjust="spacingAndGlyphs">13.5 %</text>
<rect class="pill" x="806" y="1561" width="26" height="14" rx="6"/><text class="pt" x="819" y="1571.5" textLength="15" lengthAdjust="spacingAndGlyphs">1 %</text>
<rect class="pill" x="904" y="1609" width="26" height="14" rx="6"/><text class="pt" x="917" y="1619.5" textLength="19" lengthAdjust="spacingAndGlyphs">&lt; 1 %</text>
<rect class="pill" x="944" y="1613" width="26" height="14" rx="6"/><text class="pt" x="957" y="1623.5" textLength="19" lengthAdjust="spacingAndGlyphs">&lt; 1 %</text>
<rect class="pill" x="765" y="1643" width="26" height="14" rx="6"/><text class="pt" x="778" y="1653.5" textLength="15" lengthAdjust="spacingAndGlyphs">3 %</text>
<rect class="pill" x="1501.5" y="1645" width="25" height="15" rx="6"/><text class="pt" x="1514" y="1656.5" textLength="15" lengthAdjust="spacingAndGlyphs">6 %</text>
<rect class="pill" x="1174" y="1654.5" width="24" height="15" rx="6"/><text class="pt" x="1186" y="1666" textLength="15" lengthAdjust="spacingAndGlyphs">4 %</text>
<rect class="pill" x="917" y="1700" width="26" height="14" rx="6"/><text class="pt" x="930" y="1710.5" textLength="15" lengthAdjust="spacingAndGlyphs">2 %</text>
<rect class="pill" x="1497" y="1712.5" width="33" height="14" rx="6"/><text class="pt" x="1513.5" y="1723" textLength="20" lengthAdjust="spacingAndGlyphs">17 %</text>
<rect class="pill" x="1435" y="1755.5" width="33" height="14" rx="6"/><text class="pt" x="1451.5" y="1766" textLength="20" lengthAdjust="spacingAndGlyphs">20 %</text>
<rect class="pill" x="1764" y="1750" width="31" height="15" rx="6"/><text class="pt" x="1779.5" y="1761" textLength="24" lengthAdjust="spacingAndGlyphs">100 %</text>
<rect class="pill" x="317" y="1802.5" width="30" height="14" rx="6"/><text class="pt" x="332" y="1813" textLength="24" lengthAdjust="spacingAndGlyphs">100 %</text>
<rect class="pill" x="1516.5" y="1794" width="26" height="15" rx="6"/><text class="pt" x="1529.5" y="1805.5" textLength="15" lengthAdjust="spacingAndGlyphs">5 %</text>
<rect class="pill" x="1196" y="1801" width="24" height="14" rx="6"/><text class="pt" x="1208" y="1811.5" textLength="15" lengthAdjust="spacingAndGlyphs">1 %</text>
<rect class="pill" x="905" y="1835" width="34" height="14" rx="6"/><text class="pt" x="922" y="1845.5" textLength="28" lengthAdjust="spacingAndGlyphs">3.08 %</text>
<rect class="pill" x="1562" y="1838" width="44" height="15" rx="6"/><text class="pt" x="1584" y="1849.5" textLength="36" lengthAdjust="spacingAndGlyphs">EXPORT</text>
<rect class="pill" x="1146" y="1852.5" width="34" height="14" rx="6"/><text class="pt" x="1163" y="1863" textLength="28" lengthAdjust="spacingAndGlyphs">3.08 %</text>
<rect class="pill" x="1445.5" y="1872" width="21" height="14" rx="6"/><text class="pt" x="1456" y="1882.5" textLength="18" lengthAdjust="spacingAndGlyphs">&lt; 1 %</text>
<rect class="pill" x="1183" y="1898" width="22" height="14" rx="6"/><text class="pt" x="1194" y="1908.5" textLength="18" lengthAdjust="spacingAndGlyphs">&lt; 1 %</text>
<rect class="pill" x="544" y="1902" width="25" height="14" rx="6"/><text class="pt" x="556.5" y="1912.5" textLength="15" lengthAdjust="spacingAndGlyphs">1 %</text>
<rect class="pill" x="855" y="1939" width="26" height="14" rx="6"/><text class="pt" x="868" y="1949.5" textLength="19" lengthAdjust="spacingAndGlyphs">&lt; 1 %</text>
<rect class="pill" x="1190" y="1938.5" width="24" height="14" rx="6"/><text class="pt" x="1202" y="1949" textLength="18" lengthAdjust="spacingAndGlyphs">&lt; 1 %</text>
<rect class="pill" x="1464.5" y="1955.5" width="31" height="15" rx="6"/><text class="pt" x="1480" y="1967" textLength="15" lengthAdjust="spacingAndGlyphs">7 %</text>
</g>
<g id="local-consumer"><rect x="1622" y="1663" width="63" height="35.5" rx="13" fill="#1f6b71"/><text x="1628" y="1677" class="b" font-size="10" style="fill:#fff" textLength="27" lengthAdjust="spacingAndGlyphs">LOCAL</text><text x="1628" y="1689" font-size="10" style="fill:#fff" textLength="44" lengthAdjust="spacingAndGlyphs">Consumer</text></g>
<g id="national-consumer"><rect x="1593" y="1741" width="63.5" height="44.4" rx="13" fill="#1f6b71"/><text x="1599" y="1760" class="b" font-size="10" style="fill:#fff" textLength="43" lengthAdjust="spacingAndGlyphs">NATIONAL</text><text x="1599" y="1772" font-size="10" style="fill:#fff" textLength="44" lengthAdjust="spacingAndGlyphs">Consumer</text></g>
</g>

<rect id="fade-overlay" x="106" y="1400" width="1994" height="592" fill="url(#fade)"/>

<g id="box-absent" transform="translate(-3 0)"><rect x="1762" y="326" width="288" height="187" rx="32" fill="#c7e3ec"/>
<text x="1771" y="355" font-size="18" class="b" style="fill:#4f9ab3" textLength="235" lengthAdjust="spacingAndGlyphs">ABSENT INTERRELATIONSHIP</text>
<text x="1769" y="375" font-size="17" class="b" style="fill:#5c9db5;font-style:italic" textLength="110" lengthAdjust="spacingAndGlyphs">(Furthest level)</text>
<g font-size="17" style="font-style:italic">
<text x="1769" y="394" style="fill:#5c9db5" textLength="232" lengthAdjust="spacingAndGlyphs">This level represents a cut in the</text>
<text x="1769" y="413" style="fill:#5c9db5" textLength="274" lengthAdjust="spacingAndGlyphs">relationship or lack of presence of the</text>
<text x="1769" y="433" style="fill:#5c9db5" textLength="257" lengthAdjust="spacingAndGlyphs">function and its actors mandated to</text>
<text x="1769" y="452" style="fill:#5c9db5" textLength="251" lengthAdjust="spacingAndGlyphs">carry out an enabling environment</text>
<text x="1769" y="471" style="fill:#5c9db5" textLength="225" lengthAdjust="spacingAndGlyphs">function in the operation of the</text>
<text x="1769" y="491" style="fill:#5c9db5" textLength="54" lengthAdjust="spacingAndGlyphs">system.</text></g></g>
<g id="box-indirect" transform="translate(-3 0)"><rect x="1762" y="611" width="288" height="148" rx="32" fill="#7fbfcf"/>
<text x="1771" y="654" font-size="18" class="w b" textLength="248" lengthAdjust="spacingAndGlyphs">INDIRECT INTERRELATIONSHIP</text>
<text x="1769" y="673" font-size="17" class="w b" style="font-style:italic" textLength="146" lengthAdjust="spacingAndGlyphs">(Intermediate level)</text>
<g font-size="17" style="font-style:italic">
<text x="1769" y="693" class="w" textLength="263" lengthAdjust="spacingAndGlyphs">Actors in this level are present in the</text>
<text x="1769" y="712" class="w" textLength="258" lengthAdjust="spacingAndGlyphs">system but have an indirect relation</text>
<text x="1769" y="731" class="w" textLength="152" lengthAdjust="spacingAndGlyphs">on the Target Group.</text></g></g>
<g id="box-direct" transform="translate(-3 0)"><rect x="1762" y="910" width="288" height="149" rx="32" fill="#4f8fa6"/>
<text x="1774" y="940" font-size="18" class="w b" textLength="229" lengthAdjust="spacingAndGlyphs">DIRECT INTERRELATIONSHIP</text>
<text x="1771" y="959" font-size="17" class="w b" style="font-style:italic" textLength="101" lengthAdjust="spacingAndGlyphs">(closest level)</text>
<g font-size="17" style="font-style:italic">
<text x="1771" y="979" class="w" textLength="247" lengthAdjust="spacingAndGlyphs">Actors in this level of the enabling</text>
<text x="1771" y="998" class="w" textLength="264" lengthAdjust="spacingAndGlyphs">environment have a direct person to</text>
<text x="1771" y="1017" class="w" textLength="229" lengthAdjust="spacingAndGlyphs">person relationship with Target</text>
<text x="1771" y="1037" class="w" textLength="238" lengthAdjust="spacingAndGlyphs">Group Transaction Chain Actors.</text></g></g>

<g id="callout-arrows">
<path class="arr" stroke-width="1.5" d="M379 1459C330 1385 265 1320 238 1277C205 1220 195 1170 198 1135C200 1100 220 1060 234 1033C245 1012 252 1000 262 990"/><path d="M251 990L273 981L265 1005Z" fill="#3d8781"/>
<path class="arr" stroke-width="1.5" d="M382 1451C376 1390 385 1290 396 1241C405 1205 420 1170 437 1150C448 1135 460 1130 466 1127"/><path d="M454.5 1126L478.6 1127.5L458 1143Z" fill="#3d8781"/>
<path class="arr" stroke-width="2" d="M382 1451C378 1370 400 1280 440 1225C480 1170 530 1135 592 1107C630 1088 670 1078 704 1073"/><path d="M702.5 1065L725 1072.4L706 1084Z" fill="#3d8781"/>
<path d="M1241 901C1180 870 1090 853 1017 853C960 853 900 862 872 876" fill="none" stroke="#a67c2e" stroke-width="1.8"/><path d="M852 884L869 868L876 885Z" fill="#a67c2e"/>
</g>

<g id="callout-21"><circle cx="1047.5" cy="489" r="153" fill="#fff" stroke="#41837f" stroke-width="6.5" filter="url(#gt)"/>
<text class="c" x="1047.5" y="408" textLength="195" lengthAdjust="spacingAndGlyphs">2.1 In the top of system</text>
<text class="c" x="1054.5" y="431" textLength="183" lengthAdjust="spacingAndGlyphs">map draw the system’s</text>
<text class="c" x="1048" y="453" textLength="276" lengthAdjust="spacingAndGlyphs">supporting functions by placing,</text>
<text class="c" x="1048" y="476" textLength="272" lengthAdjust="spacingAndGlyphs">according the SAM, each actor in</text>
<text class="c" x="1047.5" y="498" textLength="267" lengthAdjust="spacingAndGlyphs">the area that best reflects their</text>
<text class="c" x="1048" y="520" textLength="230" lengthAdjust="spacingAndGlyphs">relationship with the Target</text>
<text class="c" x="1048.5" y="543" textLength="265" lengthAdjust="spacingAndGlyphs">Group: in the Direct, Indirect or</text>
<text class="c" x="1047" y="566" textLength="252" lengthAdjust="spacingAndGlyphs">Absent Interrelationship area.</text></g>
<g id="note-size"><rect x="700" y="581" width="356" height="176" rx="30" fill="#a8d4e0"/>
<text x="732" y="600.6" class="i b" style="font-style:normal;fill:#2b2b2d" textLength="51" lengthAdjust="spacingAndGlyphs">NOTE:</text>
<text x="787" y="600.6" class="i" textLength="234" lengthAdjust="spacingAndGlyphs">The size of these actors nodes is</text>
<text x="711" y="620" class="i" textLength="325" lengthAdjust="spacingAndGlyphs">determined by their Relevance in the system,</text>
<text x="708" y="640" class="i" textLength="319" lengthAdjust="spacingAndGlyphs">just as explained in STEP 1 of this instructive</text>
<text x="708" y="659" class="i" textLength="297" lengthAdjust="spacingAndGlyphs">guidance but in this case the percentage</text>
<text x="708" y="678" class="i" textLength="325" lengthAdjust="spacingAndGlyphs">throughput relates to their influence over the</text>
<text x="708" y="698" class="i" textLength="311" lengthAdjust="spacingAndGlyphs">throughput rather than the volume passing</text>
<text x="708" y="717" class="i" textLength="304" lengthAdjust="spacingAndGlyphs">through them as in case of the transaction</text>
<text x="708" y="736" class="i" textLength="91" lengthAdjust="spacingAndGlyphs">chain actors.</text></g>

<g id="callout-23"><circle cx="1310" cy="1057" r="167" fill="#fff" stroke="#e09427" stroke-width="7" filter="url(#go)"/>
<text class="c" x="1310" y="921" textLength="23.5" lengthAdjust="spacingAndGlyphs">2.3</text>
<text class="c" x="1310" y="943" textLength="78" lengthAdjust="spacingAndGlyphs">Place the</text>
<text class="c" x="1310" y="966" textLength="190" lengthAdjust="spacingAndGlyphs">corresponding symbol</text>
<text class="c" x="1310" y="987.5" textLength="178" lengthAdjust="spacingAndGlyphs">depicting the type of</text>
<text class="c" x="1310" y="1011" textLength="275" lengthAdjust="spacingAndGlyphs">relationship that exists between</text>
<text class="c" x="1310" y="1033" textLength="269" lengthAdjust="spacingAndGlyphs">actors on top of the connecting</text>
<text class="c" x="1310" y="1055.6" textLength="265" lengthAdjust="spacingAndGlyphs">line or actor/group: A lightning</text>
<text class="c" x="1310" y="1078.5" textLength="224" lengthAdjust="spacingAndGlyphs">bolt represents a Stressed</text>
<text class="c" x="1310" y="1101" textLength="274" lengthAdjust="spacingAndGlyphs">relationship, an (X) represents a</text>
<text class="c" x="1310" y="1123.6" textLength="248" lengthAdjust="spacingAndGlyphs">Bad relationship, and a Good</text>
<text class="c" x="1310" y="1146" textLength="237" lengthAdjust="spacingAndGlyphs">relationship has no symbol,</text>
<text class="c" x="1310" y="1169" textLength="165" lengthAdjust="spacingAndGlyphs">just the connecting</text>
<text class="c" x="1310" y="1191" textLength="36" lengthAdjust="spacingAndGlyphs">line.</text></g>
<g id="note-actors"><rect x="1348" y="1183" width="373" height="136" rx="32" fill="#eccfa8"/>
<text x="1383" y="1204" class="i b" style="font-style:normal;fill:#2b2b2d" textLength="50" lengthAdjust="spacingAndGlyphs">NOTE:</text>
<text x="1442" y="1204" class="i" textLength="159" lengthAdjust="spacingAndGlyphs">Actors in the enabling</text>
<text x="1362" y="1223" class="i" textLength="320" lengthAdjust="spacingAndGlyphs">environment located in level 2 (indirect) and</text>
<text x="1360" y="1243" class="i" textLength="343" lengthAdjust="spacingAndGlyphs">level 3 (absent) do not have to have connecting</text>
<text x="1360" y="1262" class="i" textLength="283" lengthAdjust="spacingAndGlyphs">relationship lines but rather just put the</text>
<text x="1360" y="1282" class="i" textLength="317" lengthAdjust="spacingAndGlyphs">relationship quality symbol next to the actor</text>
<text x="1360" y="1301" class="i" textLength="41" lengthAdjust="spacingAndGlyphs">node.</text></g>

<g id="callout-22"><circle cx="525" cy="1642" r="232.5" fill="#fff" stroke="#41837f" stroke-width="6.5" filter="url(#gt)"/>
<text class="c" x="523.5" y="1482" textLength="210" lengthAdjust="spacingAndGlyphs">2.2 Connect the enabling</text>
<text class="c" x="523.5" y="1505.5" textLength="274" lengthAdjust="spacingAndGlyphs">environment actors to the other</text>
<text class="c" x="523.5" y="1527.5" textLength="317" lengthAdjust="spacingAndGlyphs">system actors with whom they have a</text>
<text class="c" x="523.5" y="1550" textLength="317" lengthAdjust="spacingAndGlyphs">relationship using a distinct line type</text>
<text class="c" x="523.5" y="1572.7" textLength="355" lengthAdjust="spacingAndGlyphs">different to the transaction chain connec-</text>
<text class="c" x="523.5" y="1596" textLength="338" lengthAdjust="spacingAndGlyphs">tions.  For complex systems with a large</text>
<text class="c" x="523.5" y="1618" textLength="381" lengthAdjust="spacingAndGlyphs">number of actor nodes, avoid falling into the</text>
<text class="c" x="523.5" y="1640" textLength="384" lengthAdjust="spacingAndGlyphs">“Proof by Intimidation” trap. In this case, it is</text>
<text class="c" x="523.5" y="1663" textLength="417" lengthAdjust="spacingAndGlyphs">recommended to rationalize the number of actor</text>
<text class="c" x="523.5" y="1685.5" textLength="391" lengthAdjust="spacingAndGlyphs">relations shown on the system map and focus</text>
<text class="c" x="523.5" y="1708.5" textLength="376" lengthAdjust="spacingAndGlyphs">on showing the primary relations, located in</text>
<text class="c" x="523.5" y="1730.6" textLength="367" lengthAdjust="spacingAndGlyphs">Level 1 (direct). Also, enabling environment</text>
<text class="c" x="523.5" y="1753" textLength="347" lengthAdjust="spacingAndGlyphs">functions, as in this map can be grouped</text>
<text class="c" x="523.5" y="1777" textLength="281" lengthAdjust="spacingAndGlyphs">and a single connection from the</text>
<text class="c" x="523.5" y="1799" textLength="235" lengthAdjust="spacingAndGlyphs">group to show the principle</text>
<text class="c" x="523.5" y="1821" textLength="116" lengthAdjust="spacingAndGlyphs">relationships.</text></g>

<g id="frame"><path d="M17.5 1992V12H2151.5V1992" fill="none" stroke="#3f3f41" stroke-width="3"/></g>
</svg>
